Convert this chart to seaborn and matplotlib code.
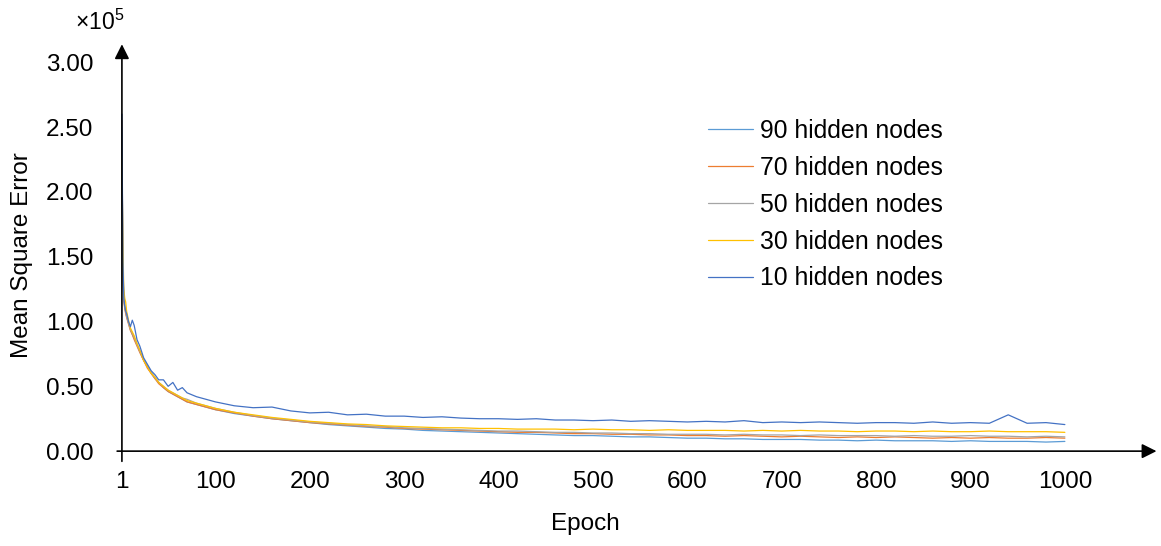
import pandas as pd
import matplotlib
matplotlib.use('Agg')
import matplotlib.pyplot as plt
import seaborn as sns

# epochs sampled off the chart, values in units of 1e5
epochs = [1, 2, 3, 4, 5, 6, 8, 10, 12, 14, 17, 20, 24, 28, 32, 36, 40, 45, 50, 55, 60, 65, 70, 80, 90, 100,
          120, 140, 160, 180, 200, 220, 240, 260, 280, 300, 320, 340, 360, 380, 400, 420, 440, 460, 480,
          500, 520, 540, 560, 580, 600, 620, 640, 660, 680, 700, 720, 740, 760, 780, 800, 820, 840, 860,
          880, 900, 920, 940, 960, 980, 1000]

nodes10 = [2.60, 1.50, 1.18, 1.12, 1.08, 1.06, 1.00, 0.96, 1.01, 0.97, 0.86, 0.81, 0.72, 0.67, 0.62, 0.59,
           0.55, 0.55, 0.50, 0.53, 0.47, 0.49, 0.45, 0.42, 0.40, 0.38,
           0.35, 0.335, 0.34, 0.31, 0.295, 0.30, 0.28, 0.285, 0.27, 0.27, 0.26, 0.265, 0.255, 0.25, 0.25,
           0.245, 0.25, 0.24, 0.24, 0.235, 0.24, 0.23, 0.235, 0.23, 0.225, 0.23, 0.225, 0.235, 0.22, 0.225,
           0.22, 0.225, 0.22, 0.215, 0.22, 0.22, 0.215, 0.225, 0.215, 0.22, 0.215, 0.28, 0.215, 0.22, 0.205]
nodes30 = [2.25, 1.60, 1.25, 1.18, 1.15, 1.08, 1.01, 0.95, 0.92, 0.89, 0.83, 0.78, 0.70, 0.65, 0.60, 0.57,
           0.53, 0.50, 0.47, 0.45, 0.43, 0.41, 0.39, 0.37, 0.35, 0.33,
           0.30, 0.28, 0.26, 0.245, 0.23, 0.22, 0.21, 0.205, 0.195, 0.19, 0.185, 0.18, 0.18, 0.175, 0.175,
           0.17, 0.17, 0.17, 0.165, 0.17, 0.165, 0.165, 0.16, 0.165, 0.16, 0.16, 0.16, 0.155, 0.16, 0.155,
           0.16, 0.155, 0.155, 0.15, 0.155, 0.155, 0.15, 0.155, 0.15, 0.15, 0.155, 0.15, 0.15, 0.15, 0.145]
nodes50 = [2.50, 1.45, 1.20, 1.12, 1.08, 1.04, 0.99, 0.94, 0.91, 0.88, 0.82, 0.77, 0.71, 0.66, 0.61, 0.57,
           0.53, 0.50, 0.47, 0.45, 0.43, 0.41, 0.40, 0.37, 0.35, 0.33,
           0.30, 0.275, 0.255, 0.24, 0.225, 0.215, 0.205, 0.195, 0.19, 0.18, 0.175, 0.17, 0.165, 0.16, 0.155,
           0.155, 0.15, 0.145, 0.145, 0.14, 0.14, 0.135, 0.135, 0.13, 0.13, 0.13, 0.125, 0.13, 0.125, 0.125,
           0.12, 0.125, 0.12, 0.12, 0.12, 0.115, 0.12, 0.115, 0.115, 0.12, 0.115, 0.115, 0.11, 0.115, 0.11]
nodes70 = [2.55, 1.40, 1.16, 1.10, 1.06, 1.03, 0.98, 0.93, 0.90, 0.86, 0.81, 0.76, 0.70, 0.64, 0.60, 0.56,
           0.52, 0.49, 0.46, 0.44, 0.42, 0.40, 0.38, 0.36, 0.34, 0.32,
           0.295, 0.27, 0.25, 0.235, 0.22, 0.21, 0.20, 0.19, 0.185, 0.175, 0.17, 0.165, 0.16, 0.155, 0.15,
           0.145, 0.145, 0.14, 0.135, 0.135, 0.13, 0.13, 0.125, 0.125, 0.12, 0.12, 0.115, 0.12, 0.115, 0.11,
           0.115, 0.11, 0.105, 0.11, 0.105, 0.11, 0.105, 0.10, 0.105, 0.10, 0.105, 0.10, 0.10, 0.105, 0.10]
nodes90 = [2.45, 1.42, 1.17, 1.11, 1.07, 1.04, 0.99, 0.94, 0.90, 0.87, 0.82, 0.77, 0.70, 0.65, 0.60, 0.56,
           0.53, 0.49, 0.46, 0.44, 0.42, 0.40, 0.38, 0.36, 0.34, 0.32,
           0.29, 0.27, 0.25, 0.235, 0.22, 0.205, 0.195, 0.185, 0.175, 0.17, 0.16, 0.155, 0.15, 0.145, 0.14,
           0.135, 0.13, 0.125, 0.12, 0.12, 0.115, 0.11, 0.11, 0.105, 0.10, 0.10, 0.095, 0.095, 0.09, 0.09,
           0.09, 0.085, 0.085, 0.08, 0.085, 0.08, 0.08, 0.08, 0.075, 0.08, 0.075, 0.075, 0.075, 0.07, 0.075]

series_names = ['90 hidden nodes', '70 hidden nodes', '50 hidden nodes', '30 hidden nodes', '10 hidden nodes']
series_values = [nodes90, nodes70, nodes50, nodes30, nodes10]
colors = ['#5B9BD5', '#ED7D31', '#A5A5A5', '#FFC000', '#4472C4']
y_ticks = [0.0, 0.5, 1.0, 1.5, 2.0, 2.5, 3.0]
x_ticks = [1, 100, 200, 300, 400, 500, 600, 700, 800, 900, 1000]

rows = []
for name, vals in zip(series_names, series_values):
    for e, v in zip(epochs, vals):
        rows.append({'Epoch': e, 'MSE': v, 'Series': name})
df = pd.DataFrame(rows)

sns.set_style('white')
plt.rcParams['font.family'] = ['Liberation Sans', 'DejaVu Sans']
plt.rcParams['mathtext.fontset'] = 'custom'
plt.rcParams['mathtext.rm'] = 'Liberation Sans'
plt.rcParams['text.color'] = 'black'
plt.rcParams['xtick.color'] = 'black'
plt.rcParams['ytick.color'] = 'black'
plt.rcParams['axes.labelcolor'] = 'black'

fig = plt.figure(figsize=(11.61, 5.46), dpi=100)
ax = fig.add_axes([0.0985, 0.150, 0.900, 0.774])

sns.lineplot(data=df, x='Epoch', y='MSE', hue='Series', hue_order=series_names,
             palette=colors, linewidth=0.9, ax=ax)

ax.set_xlim(-7, 1100)
ax.set_ylim(-0.1, 3.16)
for s in ax.spines.values():
    s.set_visible(False)

# axes drawn as arrows
ax.annotate('', xy=(1100, 0), xytext=(-7, 0),
            arrowprops=dict(arrowstyle='-|>', color='black', lw=1.2, mutation_scale=22))
ax.annotate('', xy=(1, 3.16), xytext=(1, -0.1),
            arrowprops=dict(arrowstyle='-|>', color='black', lw=1.2, mutation_scale=22))

ax.set_xticks(x_ticks)
ax.set_yticks(y_ticks)
ax.set_yticklabels([f'{t:.2f}' for t in y_ticks])
ax.tick_params(axis='both', length=0, labelsize=17.5, colors='black')
ax.tick_params(axis='y', pad=15)
ax.tick_params(axis='x', pad=5)
ax.set_xlabel('')
ax.set_ylabel('')

fig.text(22 / 1161, 1 - 255 / 546, 'Mean Square Error', rotation=90, ha='center', va='center', fontsize=17.5)
fig.text(585 / 1161, 1 - 524 / 546, 'Epoch', ha='center', va='center', fontsize=17.5)
fig.text(75 / 1161, 1 - 22 / 546, r'×10$^{\mathrm{5}}$', ha='left', va='center', fontsize=16.5)

ax.legend(loc='upper left', bbox_to_anchor=(708 / 1161, 1 - 119 / 546), bbox_transform=fig.transFigure,
          frameon=False, fontsize=17.8, handlelength=1.8, handletextpad=0.3, labelspacing=0.52,
          borderpad=0, borderaxespad=0)

fig.savefig('out.png', dpi=100)
